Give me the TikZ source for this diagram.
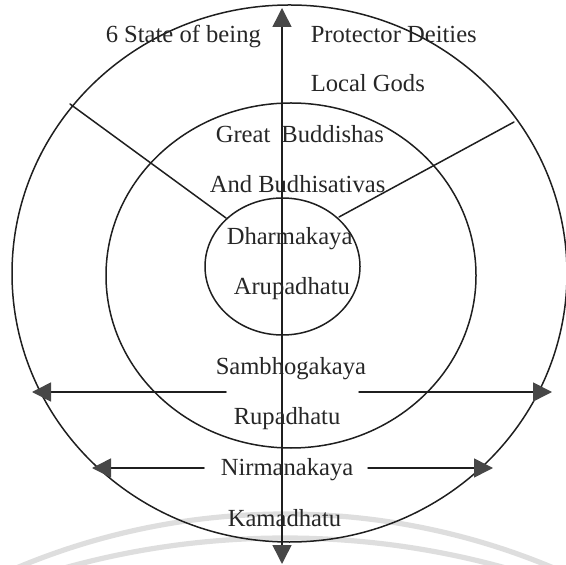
\documentclass[tikz,border=0pt]{standalone}
\usepackage{fontspec}
\setmainfont{Liberation Serif}
\usetikzlibrary{arrows.meta}
\begin{document}
\begin{tikzpicture}[x=0.5pt, y=-0.5pt, line cap=round, line join=round, line width=.75pt, font=\fontsize{12.3}{14}\selectfont, >={Triangle[length=9.5pt,width=9.5pt,color=black!72]}, lbl/.style={anchor=base west, inner sep=0pt, text=black!85}]
			\useasboundingbox (0,0) rectangle (566,565);
			\begin{scope}
			\clip (0,0) rectangle (566,565);
			\draw[black!13, line width=2.6pt] (285,1207) circle[radius=693];
			\draw[black!13, line width=2.6pt] (285,1360) circle[radius=822];
			\end{scope}
			\draw[black!88] (289.5,273.5) ellipse[x radius=277.5, y radius=268.5];
			\draw[black!88] (291,275.5) ellipse[x radius=185, y radius=172.5];
			\draw[black!88] (282.5,266.5) ellipse[x radius=77.5, y radius=68.5];
			\coordinate (topTip) at (282,8); \coordinate (botTip) at (282,564);
			\coordinate (outL) at (70,104); \coordinate (inL) at (226,218);
			\coordinate (outR) at (514,122); \coordinate (inR) at (339,217);
			\coordinate (upL) at (226,392); \coordinate (upLTip) at (32,392);
			\coordinate (upR) at (359,392); \coordinate (upRTip) at (552,392);
			\coordinate (lowL) at (204,468); \coordinate (lowLTip) at (92,468);
			\coordinate (lowR) at (368,468); \coordinate (lowRTip) at (493,468);
			\draw[black!88,<->] (botTip)--(topTip);
			\draw[black!88] (outL)--(inL) (outR)--(inR);
			\draw[black!88,->] (upL)--(upLTip);
			\draw[black!88,->] (upR)--(upRTip);
			\draw[black!88,->] (lowL)--(lowLTip);
			\draw[black!88,->] (lowR)--(lowRTip);
			\node[lbl] (states) at (105,43) {6 State of being};
			\node[lbl] (protector) at (310,43) {Protector Deities};
			\node[lbl] (localgods) at (310,92) {Local Gods};
			\node[lbl] (great) at (215,143) {Great\hspace{.45em}Buddishas};
			\node[lbl] (bodhi) at (209,193) {And Budhisativas};
			\node[lbl] (dharma) at (226,245) {Dharmakaya};
			\node[lbl] (arupa) at (233,295) {Arupadhatu};
			\node[lbl] (sambho) at (215,375) {Sambhogakaya};
			\node[lbl] (rupa) at (233,425) {Rupadhatu};
			\node[lbl] (nirmana) at (220,475) {Nirmanakaya};
			\node[lbl] (kama) at (227,526) {Kamadhatu};
			\end{tikzpicture}
\end{document}
